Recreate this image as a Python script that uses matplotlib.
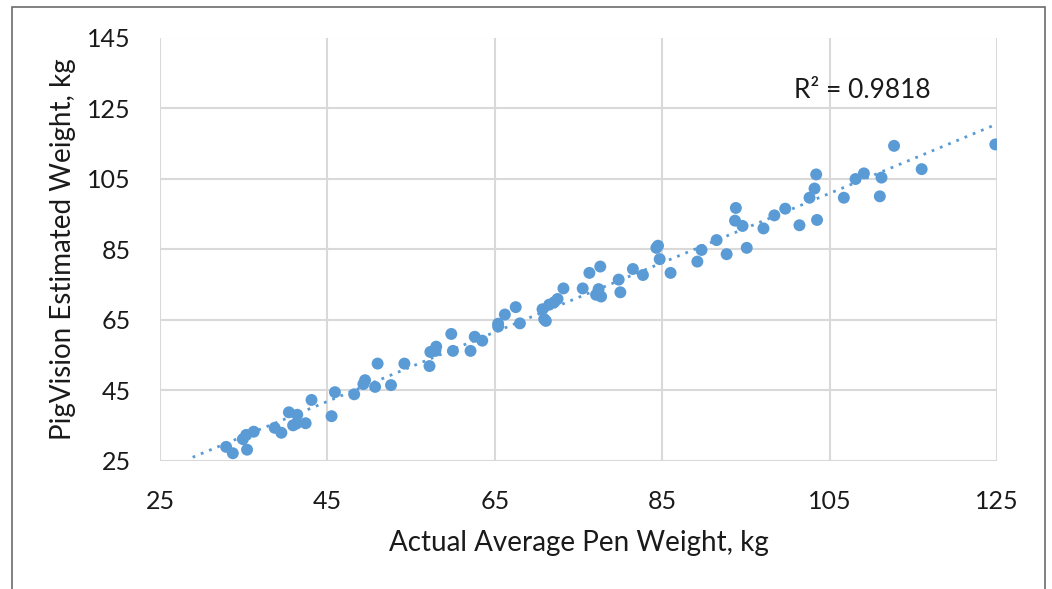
import matplotlib
matplotlib.use("Agg")
import matplotlib.pyplot as plt
import numpy as np
from matplotlib.patches import Rectangle

actual_weight = [32.9, 33.7, 34.9, 35.3, 35.4, 36.2, 38.7, 39.5, 40.4, 40.9, 41.4, 41.3, 42.4, 43.1,
                 45.5, 45.9, 48.2, 49.3, 49.5, 50.7, 51.0, 52.6, 54.2, 57.2, 57.3, 58.0, 57.9, 59.8,
                 60.0, 62.1, 62.6, 63.5, 65.4, 65.4, 66.2, 67.5, 68.0, 70.7, 70.9, 71.1, 71.5, 72.1,
                 72.5, 73.2, 75.5, 76.3, 77.1, 77.4, 77.7, 77.6, 79.8, 80.0, 81.5, 82.7, 84.3, 84.5,
                 84.7, 86.0, 89.2, 89.7, 91.5, 92.7, 93.8, 93.7, 94.6, 95.1, 97.1, 98.4, 99.7, 101.4,
                 102.6, 103.2, 103.4, 103.5, 106.7, 108.1, 109.1, 111.0, 111.2, 112.7, 116.0, 124.8]
estimated_weight = [29.0, 27.2, 31.2, 32.4, 28.2, 33.3, 34.4, 33.0, 38.8, 35.1, 38.1, 35.6, 35.7, 42.3,
                    37.7, 44.5, 43.9, 46.8, 47.9, 46.0, 52.6, 46.5, 52.6, 51.9, 55.9, 57.4, 56.2, 61.0,
                    56.2, 56.2, 60.2, 59.1, 63.1, 63.9, 66.5, 68.6, 64.0, 68.0, 65.2, 64.7, 69.3, 70.0,
                    70.9, 73.9, 73.9, 78.3, 72.1, 73.7, 71.6, 80.1, 76.4, 72.8, 79.4, 77.7, 85.4, 86.0,
                    82.2, 78.3, 81.5, 84.8, 87.6, 83.6, 96.7, 93.1, 91.6, 85.4, 90.9, 94.6, 96.5, 91.8,
                    99.6, 102.2, 106.2, 93.3, 99.6, 104.9, 106.5, 100.0, 105.3, 114.3, 107.7, 114.7]
x_ticks = [25, 45, 65, 85, 105, 125]
y_ticks = [25, 45, 65, 85, 105, 125, 145]
r2_label = "R² = 0.9818"
backward_forecast = 4.0

plt.rcParams['font.family'] = ['Lato', 'DejaVu Sans']
blue = '#5B9BD5'
text_col = '#1a1a1a'

fig = plt.figure(figsize=(10.52, 5.89), dpi=100)
ax = fig.add_axes([160/1052, 1 - 461/589, (997-160)/1052, (461-37.5)/589])

x = np.array(actual_weight)
y = np.array(estimated_weight)
coef = np.polyfit(x, y, 1)
xt = np.linspace(x.min() - backward_forecast, x.max(), 100)
ax.plot(xt, np.polyval(coef, xt), color=blue, lw=2, linestyle=(0, (1, 2.2)), zorder=2)
ax.scatter(x, y, s=74, color=blue, edgecolors='none', zorder=3)

ax.set_xlim(x_ticks[0], x_ticks[-1])
ax.set_ylim(y_ticks[0], y_ticks[-1])
ax.set_xticks(x_ticks)
ax.set_yticks(y_ticks)
ax.grid(True, color='#D9D9D9', lw=1.5, zorder=0)
ax.set_axisbelow(True)
for s in ax.spines.values():
    s.set_visible(False)
ax.tick_params(length=0, labelsize=18, colors=text_col)
ax.tick_params(axis='x', pad=21)
ax.tick_params(axis='y', pad=21)
ax.set_xlabel("Actual Average Pen Weight, kg", fontsize=20, color=text_col, labelpad=12)
ax.set_ylabel("PigVision Estimated Weight, kg", fontsize=20, color=text_col, labelpad=8)
ax.text(108.9, 130.1, r2_label, fontsize=19, color=text_col, ha='center', va='center')

fig.add_artist(Rectangle((12/1052, -0.1), (1045-12)/1052, 1.1 - 7/589, transform=fig.transFigure,
                         fill=False, edgecolor='#6b6b6b', lw=1.2))

fig.savefig("out.png", dpi=100)
